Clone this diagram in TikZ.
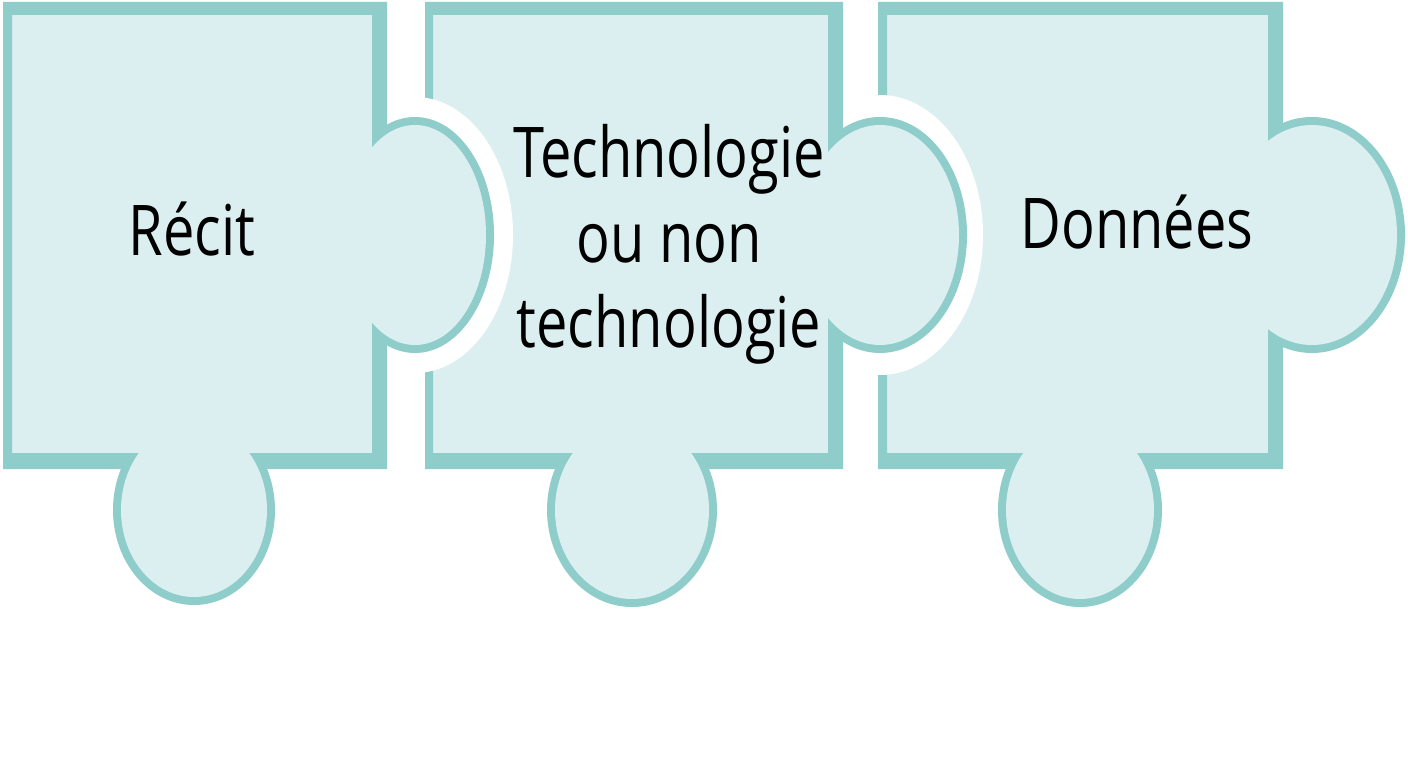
\documentclass[tikz,border=0pt]{standalone}
\usepackage{fontspec}
\setmainfont{Open Sans}[FakeStretch=0.8]
\definecolor{pzfill}{RGB}{219,239,241}
\definecolor{pzline}{RGB}{143,205,202}
\tikzset{
  pztext/.style={font=\fontsize{70}{85}\selectfont, text=black, inner sep=0pt, anchor=base, align=center},
}
\begin{document}
\begin{tikzpicture}[x=1pt,y=-1pt]
\useasboundingbox (0,0) rectangle (1408,768);
\fill[white] (0,0) rectangle (1408,768);

% ---------- piece 3 ----------
\fill[pzfill] (878,2) rectangle (1283,469);
\fill[pzline,even odd rule] (878,2) rectangle (1283,469) (887,15) rectangle (1268,453);
\begin{scope}
  \clip (1268,0) rectangle (1408,768);
  \fill[pzline] (1312,235) ellipse [x radius=93pt, y radius=118pt];
  \fill[pzfill] (1312,235) ellipse [x radius=85pt, y radius=110pt];
\end{scope}
\begin{scope}
  \clip (870,453) rectangle (1290,768);
  \fill[pzline] (1080,510) ellipse [x radius=82pt, y radius=97pt];
  \fill[pzfill] (1080,510) ellipse [x radius=74pt, y radius=89pt];
\end{scope}

% white cut between piece 2 and 3
\begin{scope}
  \clip (843,0) rectangle (1100,768);
  \fill[white] (880,235) ellipse [x radius=103pt, y radius=140pt];
\end{scope}

% ---------- piece 2 ----------
\fill[pzfill] (425,2) rectangle (843,469);
\fill[pzline,even odd rule] (425,2) rectangle (843,469) (433,15) rectangle (828,453);
\begin{scope}
  \clip (828,0) rectangle (1100,768);
  \fill[pzline] (880,235) ellipse [x radius=87pt, y radius=118pt];
  \fill[pzfill] (880,235) ellipse [x radius=79pt, y radius=110pt];
\end{scope}
\begin{scope}
  \clip (420,453) rectangle (850,768);
  \fill[pzline] (632,510) ellipse [x radius=85pt, y radius=97pt];
  \fill[pzfill] (632,510) ellipse [x radius=77pt, y radius=89pt];
\end{scope}

% white cut between piece 1 and 2
\begin{scope}
  \clip (387,0) rectangle (640,768);
  \fill[white] (415,235) ellipse [x radius=98pt, y radius=138pt];
\end{scope}

% ---------- piece 1 ----------
\fill[pzfill] (3,2) rectangle (387,469);
\fill[pzline,even odd rule] (3,2) rectangle (387,469) (12,15) rectangle (372,453);
\begin{scope}
  \clip (372,0) rectangle (640,768);
  \fill[pzline] (415,235) ellipse [x radius=79pt, y radius=118pt];
  \fill[pzfill] (415,235) ellipse [x radius=71pt, y radius=110pt];
\end{scope}
\begin{scope}
  \clip (0,453) rectangle (400,768);
  \fill[pzline] (194,510) ellipse [x radius=81pt, y radius=95pt];
  \fill[pzfill] (194,510) ellipse [x radius=73pt, y radius=87pt];
\end{scope}

% ---------- texts ----------
\node[pztext] (recit) at (192,255) {Récit};
\node[pztext] (techno) at (669,347) {Technologie\\ou non\\technologie};
\node[pztext] (donnees) at (1137,248) {Données};
\end{tikzpicture}
\end{document}
